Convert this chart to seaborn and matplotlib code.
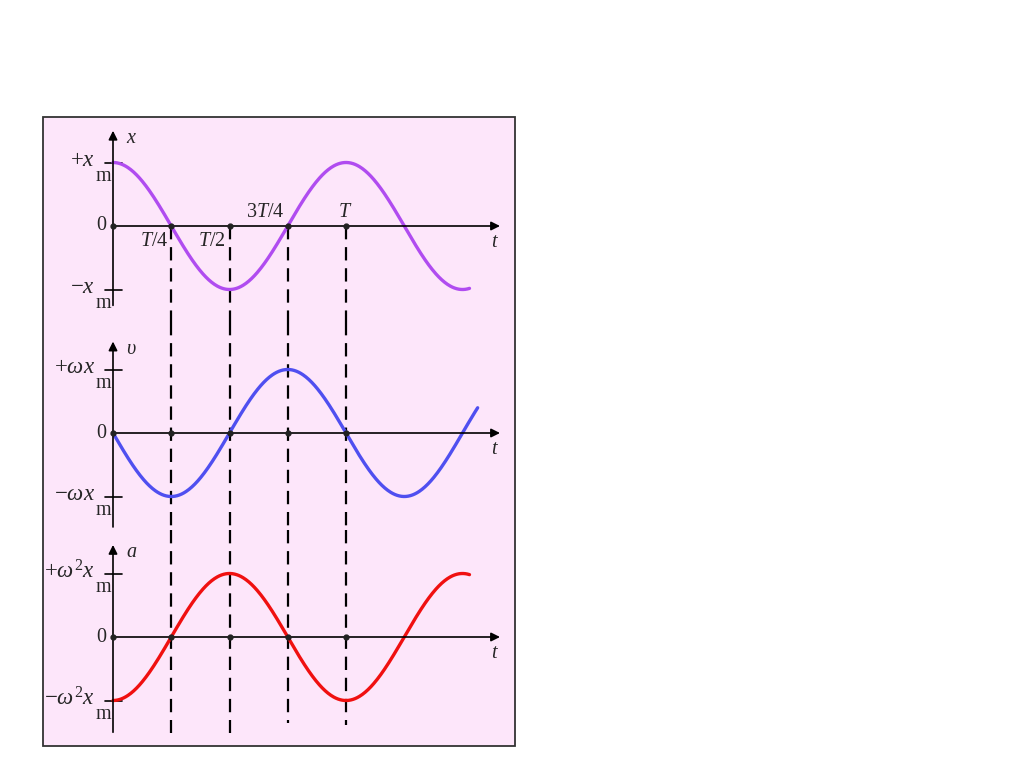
import numpy as np
import seaborn as sns
import matplotlib.pyplot as plt
from matplotlib.patches import Rectangle

# data: one period T = 1, amplitudes normalised to 1
T_MARKS = [0.25, 0.5, 0.75, 1.0]
T_LABELS = [r'$T/4$', r'$T/2$', r'$3T/4$', r'$T$']
PHASE = [0.0, 0.25, 0.5]          # x = cos, v = -sin = cos(+T/4), a = -cos = cos(+T/2)
T_END = [1.53, 1.565, 1.53]
COLORS = ['#B04CF0', '#4F4FF0', '#F01010']
Y_NAMES = [r'$x$', r'$\upsilon$', r'$a$']
PLUS_LABELS = [r'$+x$', r'$+\omega x$', r'$+\omega^2 x$']
MINUS_LABELS = [r'$-x$', r'$-\omega x$', r'$-\omega^2 x$']

W, H = 1024, 767
PX_T = 233.0      # pixels per period
PX_A = 63.5       # pixels per amplitude
X0 = 113          # pixel x of t = 0
BOX = (43, 117, 515, 746)
# (top, zero, bottom) of every panel in pixels
PANELS = [(117, 226, 322), (322, 433, 530), (530, 637, 746)]
AXIS_Y = [(1.50, -1.25), (1.44, -1.48), (1.45, -1.50)]
DASH_BOTTOM = [-1.51, -1.51, -1.36, -1.38]

sns.set_style('white')
plt.rcParams['font.family'] = ['Liberation Serif', 'DejaVu Serif']
plt.rcParams['mathtext.fontset'] = 'custom'
plt.rcParams['mathtext.rm'] = 'Liberation Serif'
plt.rcParams['mathtext.it'] = 'Liberation Serif:italic'

fig = plt.figure(figsize=(W / 100, H / 100), dpi=100)
fig.patch.set_facecolor('white')
fig.patches.append(Rectangle((BOX[0] / W, 1 - BOX[3] / H), (BOX[2] - BOX[0]) / W,
                             (BOX[3] - BOX[1]) / H, transform=fig.transFigure,
                             facecolor='#FDE6FA', edgecolor='#333333', lw=1.3, zorder=-5))

xlim = ((BOX[0] - X0) / PX_T, (BOX[2] - X0) / PX_T)
t_arrow = (500 - X0) / PX_T
dash = dict(color='black', lw=1.6, ls=(0, (6, 3.5)), clip_on=False)
fs = 14.5
x_lab = -0.077

for i, (top, zero, bottom) in enumerate(PANELS):
    ax = fig.add_axes([BOX[0] / W, 1 - bottom / H, (BOX[2] - BOX[0]) / W, (bottom - top) / H])
    ax.set_axis_off()
    ax.patch.set_alpha(0)
    ax.set_xlim(*xlim)
    ylim = (-(bottom - zero) / PX_A, (zero - top) / PX_A)
    ax.set_ylim(*ylim)

    t = np.linspace(0, T_END[i], 500)
    y = np.cos(2 * np.pi * (t + PHASE[i]))
    sns.lineplot(x=t, y=y, ax=ax, color=COLORS[i], lw=2.4, estimator=None, zorder=3)

    # axes with arrows
    ax.annotate('', xy=(t_arrow, 0), xytext=(0, 0),
                arrowprops=dict(arrowstyle='-|>', color='black', lw=1.2,
                                mutation_scale=13, shrinkA=0, shrinkB=0))
    ax.annotate('', xy=(0, AXIS_Y[i][0]), xytext=(0, AXIS_Y[i][1]),
                arrowprops=dict(arrowstyle='-|>', color='black', lw=1.2,
                                mutation_scale=13, shrinkA=0, shrinkB=0))
    for s in (1, -1):
        ax.plot([-0.034, 0.038], [s, s], color='black', lw=1.2)
    ax.plot([0] + T_MARKS, [0] * 5, 'o', color='#222222', ms=3.5, zorder=4)

    # dashed drop lines
    for j, tm in enumerate(T_MARKS):
        y_top = 0 if i == 0 else ylim[1]
        y_bot = DASH_BOTTOM[j] if i == 2 else ylim[0]
        ax.plot([tm, tm], [y_top, y_bot], **dash)

    # texts
    ax.text(0.055, AXIS_Y[i][0] - 0.12, Y_NAMES[i], fontsize=fs, ha='left', va='center')
    ax.text(t_arrow - 0.02, -0.26, r'$t$', fontsize=fs, ha='center', va='center')
    ax.text(-0.03, 0, '0', fontsize=fs, ha='right', va='center')
    for s, lab in ((1, PLUS_LABELS[i]), (-1, MINUS_LABELS[i])):
        ax.text(x_lab, s + 0.03, lab, fontsize=16.5, ha='right', va='center')
        ax.text(x_lab + 0.003, s - 0.22, 'm', fontsize=fs, ha='left', va='center')

    if i == 0:
        ax.text(T_MARKS[0] - 0.075, -0.25, T_LABELS[0], fontsize=fs, ha='center', va='center')
        ax.text(T_MARKS[1] - 0.075, -0.25, T_LABELS[1], fontsize=fs, ha='center', va='center')
        ax.text(T_MARKS[2] - 0.095, 0.22, T_LABELS[2], fontsize=fs, ha='center', va='center')
        ax.text(T_MARKS[3] - 0.005, 0.22, T_LABELS[3], fontsize=fs, ha='center', va='center')

fig.savefig('out.png', dpi=100, facecolor='white')
